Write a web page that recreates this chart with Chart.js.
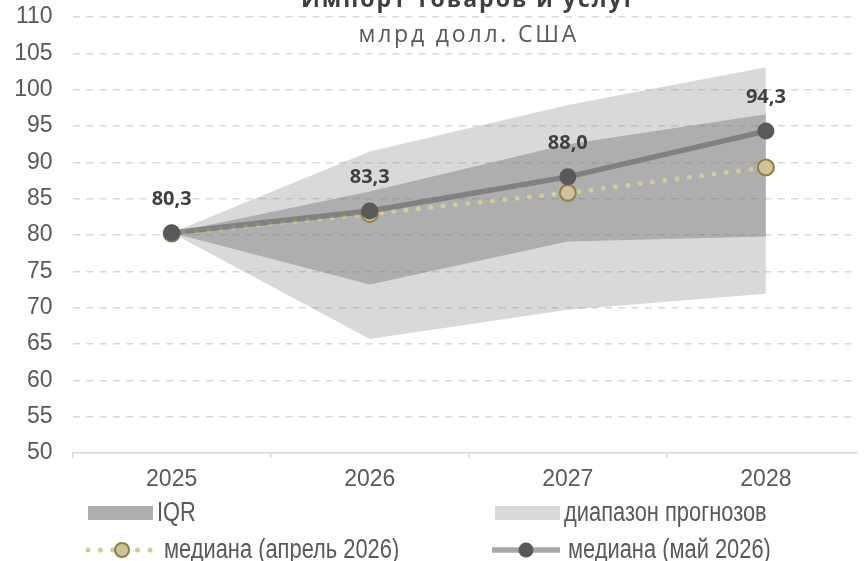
<!DOCTYPE html>
<html>
<head>
<meta charset="utf-8">
<script src="https://cdn.jsdelivr.net/npm/chart.js@4.4.1/dist/chart.umd.min.js"></script>
<style>
    html, body { margin: 0; padding: 0; background: #ffffff; }
    canvas { display: block; }
</style>
</head>
<body>
<canvas id="importChart" width="867" height="561"></canvas>
<script>
// Импорт товаров и услуг, млрд долл. США
const TITLE = 'Импорт товаров и услуг';
const SUBTITLE = 'млрд долл. США';

const years = [2025, 2026, 2027, 2028];
const medianMay = [80.3, 83.3, 88.0, 94.3];
const medianApr = [80.2, 82.9, 85.8, 89.3];
const iqrLow = [80.3, 73.2, 79.1, 79.8];
const iqrHigh = [80.3, 86.0, 92.5, 96.6];
const rangeLow = [80.3, 65.7, 69.7, 71.9];
const rangeHigh = [80.3, 91.5, 97.9, 103.1];

const Y_MIN = 50;
const Y_MAX = 110;
const Y_STEP = 5;

const LABEL_IQR = 'IQR';
const LABEL_RANGE = 'диапазон прогнозов';
const LABEL_APR = 'медиана (апрель 2026)';
const LABEL_MAY = 'медиана (май 2026)';

const points = vals => years.map((x, i) => ({ x: x, y: vals[i] }));

const AXIS_FONT = { family: '"Liberation Sans", Arial, sans-serif', size: 23 };
// no narrow face installed, so the legend text is squeezed by hand
const LEGEND_FONT = '27px "Liberation Sans", Arial, sans-serif';
const LEGEND_SQUEEZE = 0.81;

// bands are see-through so the dashed grid shows under them
const RANGE_COLOR = 'rgba(128, 128, 128, 0.3)';
const IQR_COLOR = 'rgba(110, 110, 110, 0.4)';

// title and subtitle sit over the top of the plot, as in the original
const titlePlugin = {
    id: 'titles',
    afterDraw(chart) {
        const { ctx, chartArea } = chart;
        const cx = (chartArea.left + chartArea.right) / 2 + 4;
        ctx.save();
        ctx.textAlign = 'center';
        ctx.textBaseline = 'alphabetic';
        ctx.letterSpacing = '2px';
        ctx.fillStyle = '#404040';
        ctx.font = 'bold 23px "Open Sans", sans-serif';
        ctx.fillText(TITLE, cx, 7);
        ctx.letterSpacing = '2.8px';
        ctx.fillStyle = '#595959';
        ctx.font = '23px "Open Sans", sans-serif';
        ctx.fillText(SUBTITLE, cx, 42);
        ctx.restore();
    }
};

// value labels above the May median points
const valueLabels = {
    id: 'valueLabels',
    afterDatasetsDraw(chart) {
        const idx = chart.data.datasets.findIndex(d => d.label === LABEL_MAY);
        const meta = chart.getDatasetMeta(idx);
        const { ctx } = chart;
        ctx.save();
        ctx.font = 'bold 20px "Open Sans", sans-serif';
        ctx.fillStyle = '#404040';
        ctx.textAlign = 'center';
        ctx.textBaseline = 'alphabetic';
        meta.data.forEach((pt, i) => {
            const txt = medianMay[i].toFixed(1).replace('.', ',');
            ctx.fillText(txt, pt.x, pt.y - 28);
        });
        ctx.restore();
    }
};

// two-column legend under the axis
const legendLayout = [
    { label: LABEL_IQR, x: 88, y: 513, under: RANGE_COLOR },
    { label: LABEL_RANGE, x: 495, y: 513 },
    { label: LABEL_APR, x: 88, y: 550 },
    { label: LABEL_MAY, x: 492, y: 550 }
];

const legendPlugin = {
    id: 'gridLegend',
    afterDraw(chart) {
        const { ctx } = chart;
        ctx.save();
        legendLayout.forEach(item => {
            const ds = chart.data.datasets.find(d => d.label === item.label);
            let textX;
            if (ds.fill !== false) {
                if (item.under) {
                    ctx.fillStyle = item.under;
                    ctx.fillRect(item.x, item.y - 7, 65, 14);
                }
                ctx.fillStyle = ds.backgroundColor;
                ctx.fillRect(item.x, item.y - 7, 65, 14);
                textX = item.x + 69;
            } else {
                ctx.beginPath();
                ctx.strokeStyle = ds.borderColor;
                ctx.lineWidth = ds.borderWidth;
                ctx.lineCap = ds.borderCapStyle || 'butt';
                ctx.setLineDash(ds.borderDash || []);
                ctx.moveTo(item.x, item.y);
                ctx.lineTo(item.x + 68, item.y);
                ctx.stroke();
                ctx.setLineDash([]);
                ctx.beginPath();
                ctx.arc(item.x + 34, item.y, ds.pointRadius - 1, 0, Math.PI * 2);
                ctx.fillStyle = ds.pointBackgroundColor;
                ctx.fill();
                if (ds.pointBorderWidth) {
                    ctx.lineWidth = ds.pointBorderWidth;
                    ctx.strokeStyle = ds.pointBorderColor;
                    ctx.stroke();
                }
                textX = item.x + 76;
            }
            ctx.save();
            ctx.translate(textX, item.y + 1);
            ctx.scale(LEGEND_SQUEEZE, 1);
            ctx.font = LEGEND_FONT;
            ctx.fillStyle = '#595959';
            ctx.textAlign = 'left';
            ctx.textBaseline = 'middle';
            ctx.fillText(item.label, 0, 0);
            ctx.restore();
        });
        ctx.restore();
    }
};

const band = (label, vals, fill, color, order) => ({
    label: label,
    data: points(vals),
    fill: fill,
    backgroundColor: color,
    borderWidth: 0,
    pointRadius: 0,
    tension: 0,
    order: order
});

const ctx = document.getElementById('importChart').getContext('2d');
const chart = new Chart(ctx, {
    type: 'line',
    data: {
        datasets: [
            band('rangeLow', rangeLow, false, 'rgba(0,0,0,0)', 4),
            band(LABEL_RANGE, rangeHigh, 0, RANGE_COLOR, 3),
            band('iqrLow', iqrLow, false, 'rgba(0,0,0,0)', 2),
            band(LABEL_IQR, iqrHigh, 2, IQR_COLOR, 2),
            {
                label: LABEL_APR,
                data: points(medianApr),
                fill: false,
                borderColor: '#d4ca9a',
                borderWidth: 5,
                borderDash: [0, 12.4],
                borderCapStyle: 'round',
                tension: 0,
                pointRadius: 8,
                pointBackgroundColor: '#cdc39b',
                pointBorderColor: '#8f8040',
                pointBorderWidth: 2,
                order: 1
            },
            {
                label: LABEL_MAY,
                data: points(medianMay),
                fill: false,
                borderColor: 'rgba(89, 89, 89, 0.52)',
                borderWidth: 5.5,
                tension: 0,
                pointRadius: 8.5,
                pointBackgroundColor: '#595959',
                pointBorderColor: '#595959',
                pointBorderWidth: 0,
                order: 0
            }
        ]
    },
    options: {
        responsive: false,
        animation: false,
        layout: { padding: { top: 17, left: 0, right: 0, bottom: 0 } },
        plugins: {
            legend: { display: false },
            title: { display: false },
            tooltip: { enabled: false }
        },
        scales: {
            x: {
                type: 'linear',
                position: 'bottom',
                min: 2024.5,
                max: 2028.46,
                weight: 1,
                afterBuildTicks: s => { s.ticks = years.map(v => ({ value: v })); },
                afterFit: s => { s.height = 103; },
                grid: { display: false },
                border: { display: false },
                ticks: {
                    color: '#595959',
                    font: AXIS_FONT,
                    padding: 0,
                    maxRotation: 0,
                    autoSkip: false,
                    callback: v => String(v)
                }
            },
            xMarks: {
                type: 'linear',
                position: 'bottom',
                min: 2024.5,
                max: 2028.46,
                weight: 0,
                afterBuildTicks: s => { s.ticks = years.map(v => ({ value: v - 0.5 })); },
                afterFit: s => { s.height = 5; },
                grid: { drawOnChartArea: false, drawTicks: true, tickLength: 5, color: '#d9d9d9', lineWidth: 1.5 },
                border: { display: true, color: '#d9d9d9', width: 1.5 },
                ticks: { display: false }
            },
            y: {
                min: Y_MIN,
                max: Y_MAX,
                afterFit: s => {
                    s.width = 72.6;
                    s.paddingTop = 0;
                    s.paddingBottom = 0;
                },
                grid: {
                    drawTicks: false,
                    color: c => (c.tick && c.tick.value === Y_MIN ? 'rgba(0,0,0,0)' : '#d9d9d9'),
                    lineWidth: 1.5
                },
                border: { display: false, dash: [7, 6.3] },
                ticks: {
                    stepSize: Y_STEP,
                    color: '#595959',
                    font: AXIS_FONT,
                    padding: 20
                }
            }
        }
    },
    plugins: [valueLabels, titlePlugin, legendPlugin]
});
</script>
</body>
</html>
